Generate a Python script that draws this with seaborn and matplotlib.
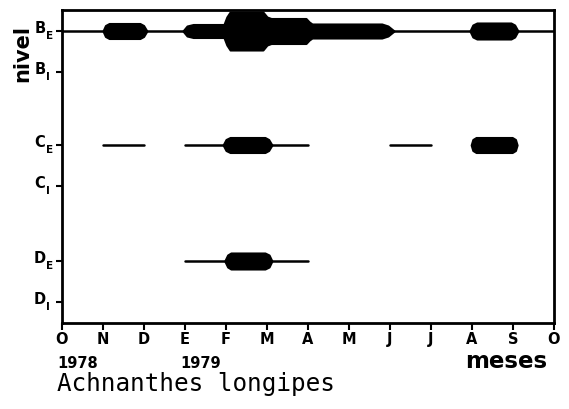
import matplotlib
matplotlib.use("Agg")
import matplotlib.pyplot as plt
from matplotlib import font_manager
import numpy as np
import pandas as pd
import seaborn as sns

# Month ticks, October 1978 to October 1979
month_labels = ["O", "N", "D", "E", "F", "M", "A", "M", "J", "J", "A", "S", "O"]
year_labels = ["1978", "1979"]
year_months = [0, 3]

# Sampling levels (height scale of the diagram)
level_names = [("B", "E"), ("B", "I"), ("C", "E"), ("C", "I"), ("D", "E"), ("D", "I")]
level_pos = [292, 251, 178, 137, 62, 21]

# Presence (thin line) spans, in months from October 1978
B_E_lines = [(0, 12)]
C_E_lines = [(1, 2), (3, 6), (8, 9)]
D_E_lines = [(3, 6)]

# Abundance kites: each kite is (months, half-widths of the band)
B_E_kites = [
    ([1.0, 1.06, 1.15, 1.9, 1.99, 2.07], [0, 5.5, 7.5, 7.5, 5.5, 0]),
    ([2.95, 3.05, 3.2, 3.95, 4.02, 4.1, 4.9, 5.0, 5.1, 5.95, 6.03, 6.1, 7.8, 7.95, 8.1],
     [0, 5, 6.5, 6.5, 14, 19, 19, 14, 12.5, 12.5, 9, 7, 7, 5, 0]),
    ([9.95, 10.02, 10.12, 10.95, 11.04, 11.12], [0, 6, 8, 8, 6, 0]),
]
C_E_kites = [
    ([3.93, 4.0, 4.1, 4.95, 5.04, 5.12], [0, 5.5, 7.5, 7.5, 5.5, 0]),
    ([9.98, 10.02, 10.1, 10.98, 11.06, 11.1], [0, 5.5, 7.5, 7.5, 5.5, 0]),
]
D_E_kites = [
    ([3.97, 4.04, 4.12, 4.95, 5.05, 5.12], [0, 6, 8, 8, 6, 0]),
]

sns.set_theme(style="ticks")
plt.rcParams["font.family"] = ["DejaVu Sans"]
plt.rcParams["text.color"] = "black"
plt.rcParams["xtick.color"] = "black"
plt.rcParams["ytick.color"] = "black"

# narrow lettering for the axis labels when available
installed = {f.name for f in font_manager.fontManager.ttflist}
narrow = "Liberation Sans Narrow" if "Liberation Sans Narrow" in installed else "DejaVu Sans"
narrow_size = 12.5 if narrow != "DejaVu Sans" else 10.5

W, H = 569, 409
fig = plt.figure(figsize=(W / 100, H / 100), dpi=100)
ax = fig.add_axes([62 / W, 1 - 323 / H, (554 - 62) / W, (323 - 10) / H])

# thin presence lines
rows = []
for lvl, spans in ((level_pos[0], B_E_lines), (level_pos[2], C_E_lines), (level_pos[4], D_E_lines)):
    for i, (a, b) in enumerate(spans):
        seg = f"{lvl}-{i}"
        rows.append({"mes": a, "nivel": lvl, "seg": seg})
        rows.append({"mes": b, "nivel": lvl, "seg": seg})
lines_df = pd.DataFrame(rows)
sns.lineplot(data=lines_df, x="mes", y="nivel", units="seg", estimator=None,
             color="black", linewidth=1.8, sort=False, legend=False, ax=ax)

# abundance kites
for lvl, kites in ((level_pos[0], B_E_kites),
                   (level_pos[2], C_E_kites),
                   (level_pos[4], D_E_kites)):
    for kx, kw in kites:
        kx = np.asarray(kx, float)
        kw = np.asarray(kw, float)
        ax.fill_between(kx, lvl - kw, lvl + kw, facecolor="black", linewidth=1.5,
                        edgecolor="black", joinstyle="round")

ax.set_xlim(0, 12)
ax.set_ylim(0, 313)
ax.set_xticks(range(13))
ax.set_xticklabels(month_labels, fontsize=narrow_size, fontweight="bold", family=narrow)
ax.set_yticks(level_pos)
ax.set_yticklabels([""] * len(level_pos))
ax.set_xlabel("")
ax.set_ylabel("")
ax.tick_params(axis="x", direction="out", length=5, width=1.5, pad=1.5, colors="black")
ax.tick_params(axis="y", direction="out", length=4, width=1.5, pad=2, colors="black")
for sp in ax.spines.values():
    sp.set_visible(True)
    sp.set_linewidth(2)
    sp.set_color("black")

# level names: letter with its subscript, placed through the axis transform
for (big, sub), y in zip(level_names, level_pos):
    ax.annotate(big, xy=(0, y), xycoords=("axes fraction", "data"),
                xytext=(-12, 1.5), textcoords="offset points", ha="right", va="center",
                fontsize=narrow_size, fontweight="bold", family=narrow)
    ax.annotate(sub, xy=(0, y), xycoords=("axes fraction", "data"),
                xytext=(-11.7, -3.5), textcoords="offset points", ha="left", va="center",
                fontsize=narrow_size - 3, fontweight="bold", family=narrow)

for lab, m in zip(year_labels, year_months):
    fig.text((62 + 41 * m - 5) / W, 1 - 363 / H, lab, ha="left", va="center",
             fontsize=narrow_size, fontweight="bold", family=narrow)

fig.text(547 / W, 1 - 368 / H, "meses", ha="right", va="baseline", fontsize=16.5,
         fontweight="bold")
fig.text(57 / W, 1 - 391 / H, "Achnanthes longipes", ha="left", va="baseline",
         fontsize=17.5, family="DejaVu Sans Mono")
fig.text(22 / W, 1 - 53 / H, "nivel", ha="center", va="center", rotation=90,
         fontsize=15, fontweight="bold")

fig.savefig("out.png", dpi=100, facecolor="white")
